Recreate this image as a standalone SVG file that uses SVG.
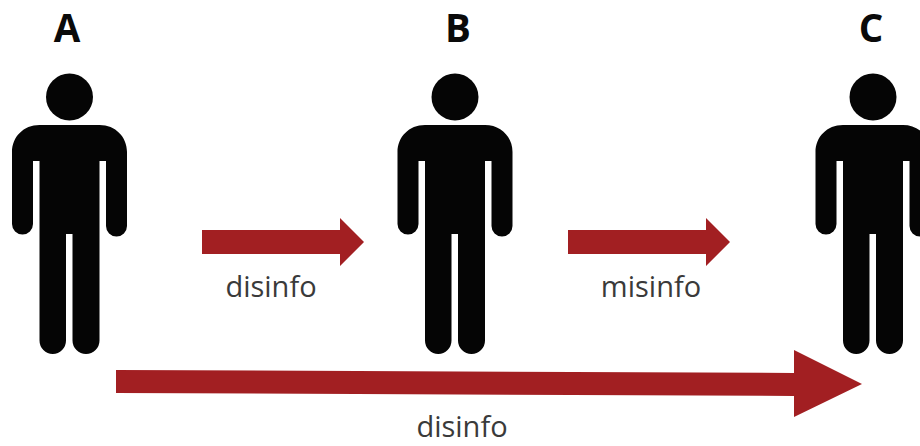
<svg xmlns="http://www.w3.org/2000/svg" width="920" height="446" viewBox="0 0 920 446">
<style>
.name{font-family:"Open Sans","Noto Sans",sans-serif;font-weight:700;font-size:38.500px;fill:#0a0a0a;text-anchor:middle}
.lab{font-family:"Open Sans","Noto Sans",sans-serif;font-size:29px;fill:#3a3a3a;text-anchor:middle}
.arrow{fill:#a21f22}
</style>
<defs>
<g id="person">
<circle cx="0" cy="97" r="23.5" fill="#050505"/>
<path fill="#050505" d="M-30 125H30C46 125 57.500 137 57.500 152V226A10.500 10.500 0 0 1 36.500 226V161H30V340.500A13.500 13.500 0 0 1 3 340.500V234H-3.500V340.500A13.250 13.500 0 0 1 -30 340.500V161H-36.500V224A10.500 10.500 0 0 1 -57.500 224V152C-57.500 137 -46 125 -30 125Z"/>
</g>
</defs>
<rect width="920" height="446" fill="#fff"/>
<g id="connectors">
<path class="arrow" d="M202 230H340V218L364 242L340 266V254H202Z"/>
<path class="arrow" d="M568 230H706V218L730 242L706 266V254H568Z"/>
<path class="arrow" d="M116 370L794 373V350L862 384L794 417V396L116 393Z"/>
</g>
<g id="node-a"><use href="#person" x="69.500"/><text class="name" x="67" y="41.500">A</text></g>
<g id="node-b"><use href="#person" x="455"/><text class="name" x="458" y="41.500">B</text></g>
<g id="node-c"><use href="#person" x="873"/><text class="name" x="871" y="41.500">C</text></g>
<text class="lab" x="271" y="297">disinfo</text>
<text class="lab" x="651" y="297">misinfo</text>
<text class="lab" x="462" y="437">disinfo</text>
</svg>
